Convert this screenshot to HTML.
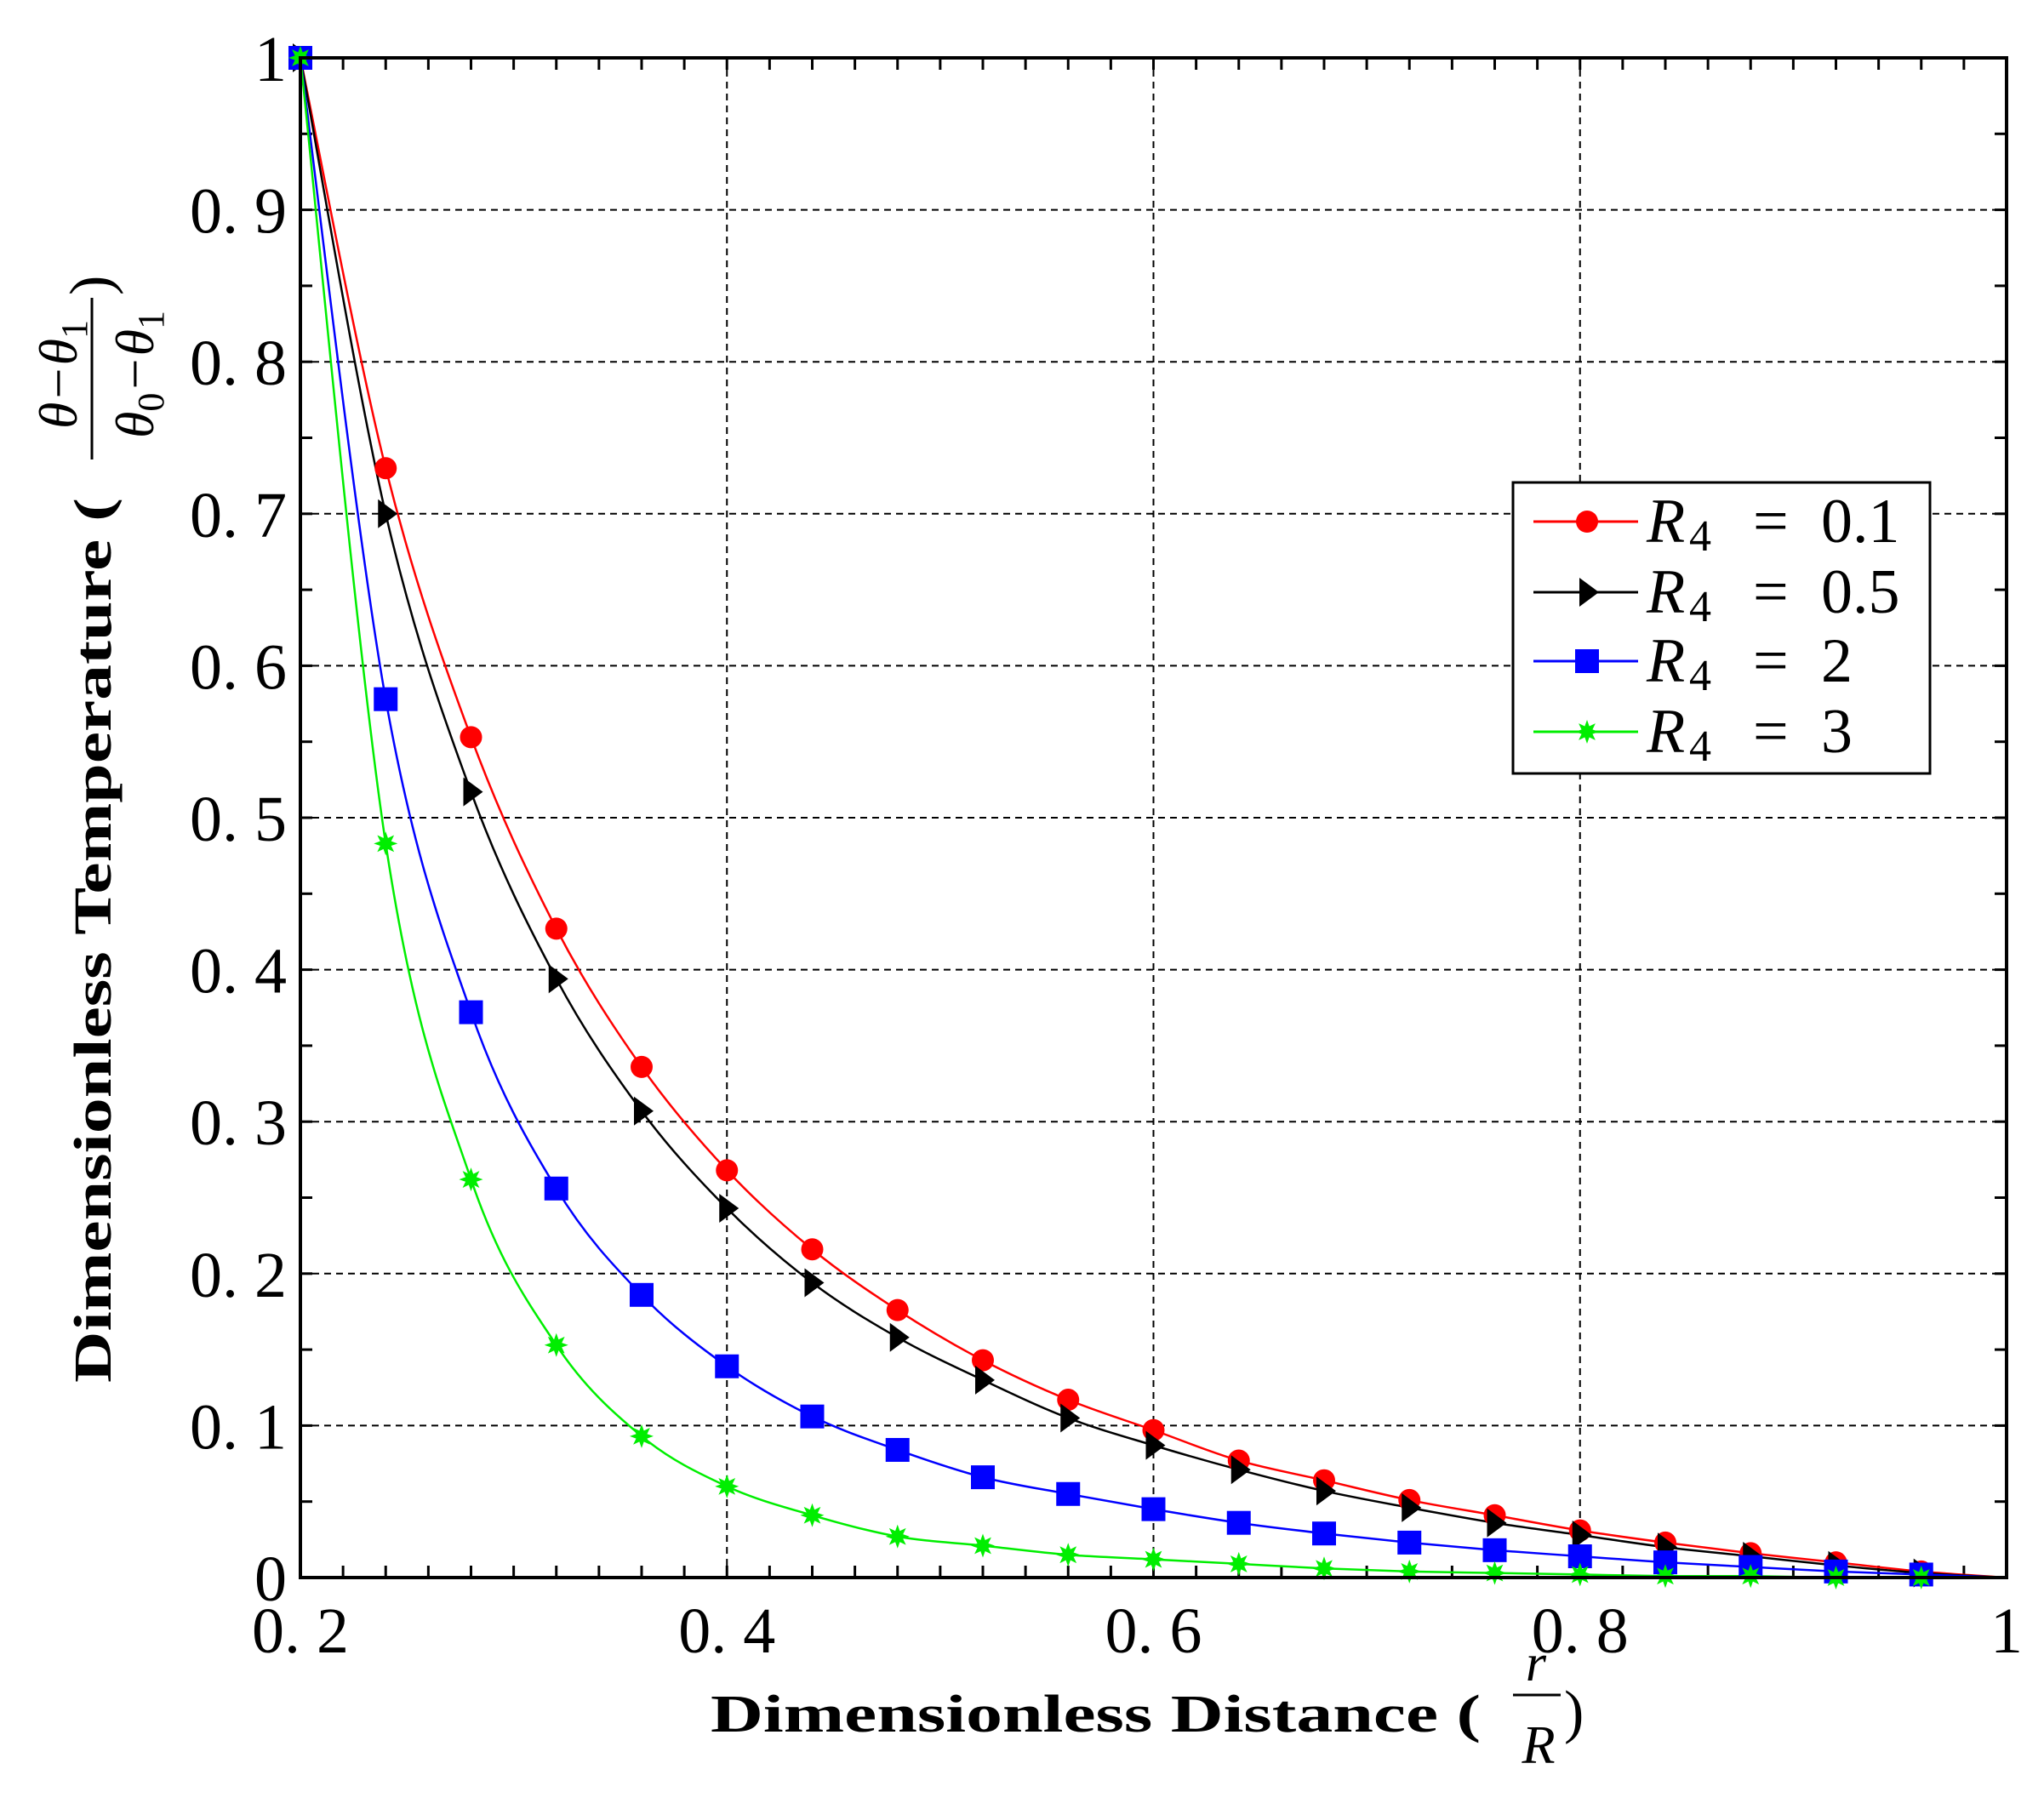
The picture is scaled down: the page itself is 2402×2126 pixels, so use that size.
<!DOCTYPE html>
<html><head><meta charset="utf-8"><style>body{margin:0;background:#fff}svg{display:block}svg text{font-family:"Liberation Serif",serif}</style></head>
<body>
<svg id="s" xmlns="http://www.w3.org/2000/svg" width="2402" height="2126" viewBox="0 0 2402 2126">
<g id="grid" stroke="#000" stroke-width="2" stroke-dasharray="8,6" fill="none"></g>
<g id="ticks" stroke="#000" stroke-width="3"></g>
<g id="series"></g>
<rect x="353" y="68" width="2005" height="1786" fill="none" stroke="#000" stroke-width="4"/>
<g id="labels" font-size="76" fill="#000"></g>
<text x="835" y="2035" font-size="62" font-weight="bold" textLength="905" lengthAdjust="spacingAndGlyphs">Dimensionless Distance (</text>
<text x="1805" y="1975" font-size="62" font-style="italic" text-anchor="middle">r</text>
<line x1="1778" y1="1992" x2="1834" y2="1992" stroke="#000" stroke-width="3"/>
<text x="1808" y="2072" font-size="64" font-style="italic" text-anchor="middle">R</text>
<text x="1838" y="2035" font-size="70">)</text>
<g transform="translate(130,1625) rotate(-90)">
<text x="0" y="0" font-size="62" font-weight="bold" textLength="1040" lengthAdjust="spacingAndGlyphs">Dimensionless Temperature (</text>
<text x="1185" y="-40" font-size="64" font-style="italic" text-anchor="middle">θ−θ<tspan font-size="44" dy="12" font-style="normal">1</tspan></text>
<line x1="1085" y1="-22" x2="1275" y2="-22" stroke="#000" stroke-width="3"/>
<text x="1185" y="50" font-size="64" font-style="italic" text-anchor="middle">θ<tspan font-size="44" dy="12" font-style="normal">0</tspan><tspan dy="-12">−θ</tspan><tspan font-size="44" dy="12" font-style="normal">1</tspan></text>
<text x="1278" y="0" font-size="70">)</text>
</g>
<rect x="1778" y="567" width="490" height="342" fill="#fff" stroke="#000" stroke-width="3"/>
<g id="legend" font-size="74"></g>
</svg>
<script>
const NS="http://www.w3.org/2000/svg";
const X=v=>353+(v-0.2)*2506.25, Y=v=>1854-v*1786;
function el(p,t,a,txt){const e=document.createElementNS(NS,t);for(const k in a)e.setAttribute(k,a[k]);if(txt!=null)e.textContent=txt;document.getElementById(p).appendChild(e);return e;}
for(const v of [0.4,0.6,0.8]) el('grid','line',{x1:X(v),x2:X(v),y1:68,y2:1854});
for(let i=1;i<10;i++) el('grid','line',{x1:353,x2:2358,y1:Y(i/10),y2:Y(i/10)});
for(let i=1;i<40;i++){const x=X(0.2+i*0.02);el('ticks','line',{x1:x,x2:x,y1:1854,y2:1840});el('ticks','line',{x1:x,x2:x,y1:68,y2:82});}
for(let i=1;i<20;i++){const y=Y(i*0.05);el('ticks','line',{x1:353,x2:367,y1:y,y2:y});el('ticks','line',{x1:2358,x2:2344,y1:y,y2:y});}
const yl=['0','0. 1','0. 2','0. 3','0. 4','0. 5','0. 6','0. 7','0. 8','0. 9','1'];
yl.forEach((t,i)=>el('labels','text',{x:337,y:Y(i/10)+27,'text-anchor':'end'},t));
[['0. 2',0.2],['0. 4',0.4],['0. 6',0.6],['0. 8',0.8],['1',1]].forEach(([t,v])=>el('labels','text',{x:X(v),y:1942,'text-anchor':'middle'},t));
const D={
red:[1,0.73,0.553,0.427,0.336,0.268,0.216,0.176,0.143,0.117,0.097,0.077,0.064,0.051,0.041,0.031,0.023,0.016,0.01,0.004],
black:[1,0.70,0.517,0.394,0.307,0.243,0.194,0.158,0.13,0.105,0.087,0.071,0.057,0.046,0.036,0.028,0.02,0.014,0.008,0.003],
blue:[1,0.578,0.372,0.256,0.186,0.139,0.106,0.084,0.066,0.055,0.045,0.036,0.029,0.023,0.018,0.014,0.01,0.007,0.004,0.002],
'#00ee00':[1,0.483,0.262,0.153,0.093,0.06,0.041,0.027,0.021,0.015,0.012,0.009,0.006,0.004,0.003,0.002,0.001,0.001,0,0]};
function marker(g,c,x,y){
 if(c=='red') el(g,'circle',{cx:x,cy:y,r:13,fill:'red'});
 else if(c=='black') el(g,'polygon',{points:`${x-9},${y-17} ${x+14},${y} ${x-9},${y+17}`,fill:'#000'});
 else if(c=='blue') el(g,'rect',{x:x-14,y:y-14,width:28,height:28,fill:'blue'});
 else {let p='';for(let k=0;k<16;k++){const r=k%2?7:14,a=k*Math.PI/8;p+=(x+r*Math.sin(a))+','+(y-r*Math.cos(a))+' ';}el(g,'polygon',{points:p,fill:'#00ee00'});}
}
for(const c in D){
 const a=D[c].concat([0]);const xs=a.map((_,i)=>i<20?0.2+i*0.04:1);
 const P=xs.map((x,i)=>[X(x),Y(a[i])]);
 let d=`M${P[0][0]},${P[0][1]}`;
 for(let i=0;i<P.length-1;i++){const p0=P[Math.max(0,i-1)],p1=P[i],p2=P[i+1],p3=P[Math.min(P.length-1,i+2)];
  let c1y=p1[1]+(p2[1]-p0[1])/6,c2y=p2[1]-(p3[1]-p1[1])/6;
  c1y=Math.min(Math.max(c1y,Math.min(p1[1],p2[1])),Math.max(p1[1],p2[1]));
  c2y=Math.min(Math.max(c2y,Math.min(p1[1],p2[1])),Math.max(p1[1],p2[1]));
  d+=` C${p1[0]+(p2[0]-p0[0])/6},${c1y} ${p2[0]-(p3[0]-p1[0])/6},${c2y} ${p2[0]},${p2[1]}`;}
 el('series','path',{d,fill:'none',stroke:c,'stroke-width':2.5});
}
for(const c of ['red','black','blue','#00ee00']) D[c].forEach((v,i)=>marker('series',c,X(0.2+i*0.04),Y(v)));
const L=[['red','0.1'],['black','0.5'],['blue','2'],['#00ee00','3']];
L.forEach(([c,t],i)=>{const y=[613,696,777,860][i];
 el('legend','line',{x1:1802,x2:1925,y1:y,y2:y,stroke:c,'stroke-width':3});marker('legend',c,1865,y);
 el('legend','text',{x:1935,y:y+24,'font-style':'italic'},'R');
 el('legend','text',{x:1985,y:y+34,'font-size':52},'4');
 el('legend','text',{x:2060,y:y+24},'=');
 el('legend','text',{x:2140,y:y+24},t);
});
</script>
</body></html>
